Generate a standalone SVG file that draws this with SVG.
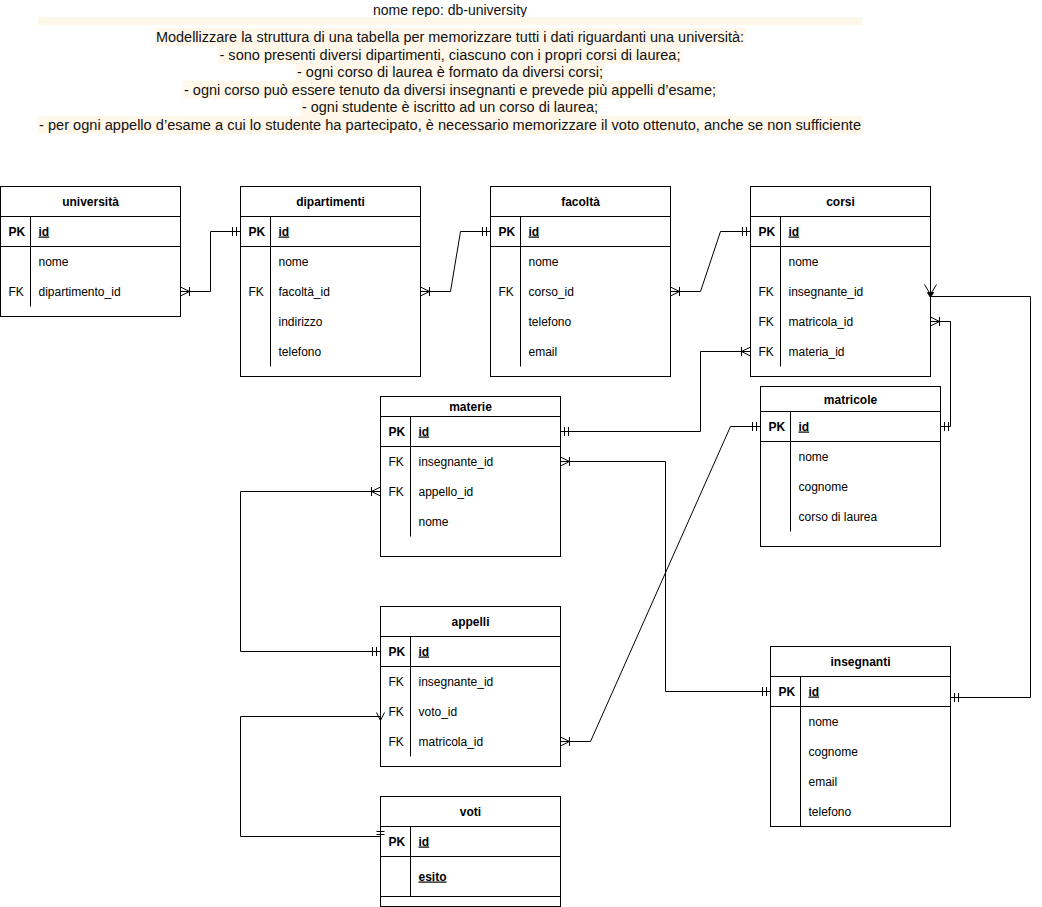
<svg xmlns="http://www.w3.org/2000/svg" width="1042" height="907" viewBox="0 0 1042 907">
<style>
text{font-family:"Liberation Sans",Arial,sans-serif;font-size:12px;fill:#000}
.h{font-weight:bold;text-anchor:middle}
.k{font-weight:bold}
.u{font-weight:bold;text-decoration:underline}
.t{font-size:14px;text-anchor:middle;fill:#111}
.box{fill:#fff;stroke:#000;stroke-width:1}
.ln{stroke:#000;stroke-width:1;fill:none}
.hl{fill:#fff7ea}
.c{stroke:#000;stroke-width:1;fill:none;marker-start:var(--ms);marker-end:var(--me)}
</style>
<defs>
<marker id="one" viewBox="-12 -6 14 12" refX="0" refY="0" markerWidth="14" markerHeight="12" markerUnits="userSpaceOnUse" orient="auto-start-reverse" overflow="visible"><path d="M-4,-4.5V4.5M-8,-4.5V4.5" stroke="#000" stroke-width="1" fill="none"/></marker>
<marker id="many" viewBox="-12 -6 14 12" refX="0" refY="0" markerWidth="14" markerHeight="12" markerUnits="userSpaceOnUse" orient="auto-start-reverse" overflow="visible"><path d="M0,-4.5L-9,0L0,4.5M-9,-4.5V4.5" stroke="#000" stroke-width="1" fill="none"/></marker>
</defs>
<rect width="1042" height="907" fill="#fff"/>
<g id="header">
<text x="450" y="15" class="t">nome repo: db-university</text>
<rect class="hl" x="38" y="17" width="824" height="8"/>
<rect class="hl" x="155" y="28" width="590" height="18"/>
<rect class="hl" x="218" y="45.6" width="463" height="18"/>
<rect class="hl" x="296" y="63.2" width="308" height="18"/>
<rect class="hl" x="183" y="80.8" width="534" height="18"/>
<rect class="hl" x="301" y="98.4" width="298" height="18"/>
<rect class="hl" x="38" y="116" width="824" height="18"/>
<text x="450" y="42" class="t" textLength="588" lengthAdjust="spacingAndGlyphs">Modellizzare la struttura di una tabella per memorizzare tutti i dati riguardanti una università:</text>
<text x="450" y="59.6" class="t" textLength="461" lengthAdjust="spacingAndGlyphs">- sono presenti diversi dipartimenti, ciascuno con i propri corsi di laurea;</text>
<text x="450" y="77.2" class="t" textLength="306" lengthAdjust="spacingAndGlyphs">- ogni corso di laurea è formato da diversi corsi;</text>
<text x="450" y="94.8" class="t" textLength="532" lengthAdjust="spacingAndGlyphs">- ogni corso può essere tenuto da diversi insegnanti e prevede più appelli d’esame;</text>
<text x="450" y="112.4" class="t" textLength="296" lengthAdjust="spacingAndGlyphs">- ogni studente è iscritto ad un corso di laurea;</text>
<text x="450" y="130" class="t" textLength="822" lengthAdjust="spacingAndGlyphs">- per ogni appello d’esame a cui lo studente ha partecipato, è necessario memorizzare il voto ottenuto, anche se non sufficiente</text>
</g>
<g transform="translate(0.5,0.5)">
<g id="universita" transform="translate(0,186)">
<rect class="box" width="180" height="130"/>
<path class="ln" d="M0,30H180M0,60H180M30,30V120"/>
<text x="90" y="19" class="h">università</text>
<text x="8" y="49" class="k">PK</text><text x="38" y="49" class="u">id</text>
<text x="38" y="79">nome</text>
<text x="8" y="109">FK</text><text x="38" y="109">dipartimento_id</text>
</g>
<g id="dipartimenti" transform="translate(240,186)">
<rect class="box" width="180" height="190"/>
<path class="ln" d="M0,30H180M0,60H180M30,30V180"/>
<text x="90" y="19" class="h">dipartimenti</text>
<text x="8" y="49" class="k">PK</text><text x="38" y="49" class="u">id</text>
<text x="38" y="79">nome</text>
<text x="8" y="109">FK</text><text x="38" y="109">facoltà_id</text>
<text x="38" y="139">indirizzo</text>
<text x="38" y="169">telefono</text>
</g>
<g id="facolta" transform="translate(490,186)">
<rect class="box" width="180" height="190"/>
<path class="ln" d="M0,30H180M0,60H180M30,30V180"/>
<text x="90" y="19" class="h">facoltà</text>
<text x="8" y="49" class="k">PK</text><text x="38" y="49" class="u">id</text>
<text x="38" y="79">nome</text>
<text x="8" y="109">FK</text><text x="38" y="109">corso_id</text>
<text x="38" y="139">telefono</text>
<text x="38" y="169">email</text>
</g>
<g id="corsi" transform="translate(750,186)">
<rect class="box" width="180" height="190"/>
<path class="ln" d="M0,30H180M0,60H180M30,30V180"/>
<text x="90" y="19" class="h">corsi</text>
<text x="8" y="49" class="k">PK</text><text x="38" y="49" class="u">id</text>
<text x="38" y="79">nome</text>
<text x="8" y="109">FK</text><text x="38" y="109">insegnante_id</text>
<text x="8" y="139">FK</text><text x="38" y="139">matricola_id</text>
<text x="8" y="169">FK</text><text x="38" y="169">materia_id</text>
</g>
<g id="materie" transform="translate(380,396)">
<rect class="box" width="180" height="160"/>
<path class="ln" d="M0,20H180M0,50H180M30,20V140"/>
<text x="90" y="14" class="h">materie</text>
<text x="8" y="39" class="k">PK</text><text x="38" y="39" class="u">id</text>
<text x="8" y="69">FK</text><text x="38" y="69">insegnante_id</text>
<text x="8" y="99">FK</text><text x="38" y="99">appello_id</text>
<text x="38" y="129">nome</text>
</g>
<g id="matricole" transform="translate(760,386)">
<rect class="box" width="180" height="160"/>
<path class="ln" d="M0,25H180M0,55H180M30,25V145"/>
<text x="90" y="17" class="h">matricole</text>
<text x="8" y="44" class="k">PK</text><text x="38" y="44" class="u">id</text>
<text x="38" y="74">nome</text>
<text x="38" y="104">cognome</text>
<text x="38" y="134">corso di laurea</text>
</g>
<g id="appelli" transform="translate(380,606)">
<rect class="box" width="180" height="160"/>
<path class="ln" d="M0,30H180M0,60H180M30,30V150"/>
<text x="90" y="19" class="h">appelli</text>
<text x="8" y="49" class="k">PK</text><text x="38" y="49" class="u">id</text>
<text x="8" y="79">FK</text><text x="38" y="79">insegnante_id</text>
<text x="8" y="109">FK</text><text x="38" y="109">voto_id</text>
<text x="8" y="139">FK</text><text x="38" y="139">matricola_id</text>
</g>
<g id="voti" transform="translate(380,796)">
<rect class="box" width="180" height="110"/>
<path class="ln" d="M0,30H180M0,60H180M0,100H180M30,30V100"/>
<text x="90" y="19" class="h">voti</text>
<text x="8" y="49" class="k">PK</text><text x="38" y="49" class="u">id</text>
<text x="38" y="84" class="u">esito</text>
</g>
<g id="insegnanti" transform="translate(770,646)">
<rect class="box" width="180" height="180"/>
<path class="ln" d="M0,30H180M0,60H180M30,30V180"/>
<text x="90" y="19" class="h">insegnanti</text>
<text x="8" y="49" class="k">PK</text><text x="38" y="49" class="u">id</text>
<text x="38" y="79">nome</text>
<text x="38" y="109">cognome</text>
<text x="38" y="139">email</text>
<text x="38" y="169">telefono</text>
</g>
<g id="connectors" fill="none" stroke="#000" stroke-width="1">
<path d="M180,291H210V231H240" marker-start="url(#many)" marker-end="url(#one)"/>
<path d="M420,291H450L460,231H490" marker-start="url(#many)" marker-end="url(#one)"/>
<path d="M670,291H700L720,231H750" marker-start="url(#many)" marker-end="url(#one)"/>
<path d="M560,431H700V351H750" marker-start="url(#one)" marker-end="url(#many)"/>
<path d="M560,461H665V691H770" marker-start="url(#many)" marker-end="url(#one)"/>
<path d="M560,741H590L730,426H760" marker-start="url(#many)" marker-end="url(#one)"/>
<path d="M930,321H950V426H940" marker-start="url(#many)" marker-end="url(#one)"/>
<path d="M950,697H1030V296H930" marker-start="url(#one)"/>
<path d="M924,284L930,294L936,284"/>
<path d="M927,292H933L930,297Z" fill="#000"/>
<path d="M380,651H240V491H380" marker-start="url(#one)" marker-end="url(#many)"/>
<path d="M380,716H240V836H380"/>
<path d="M376,712L380,720L384,712M380,712V720"/>
<path d="M376,831H384M376,834H384"/>
</g>
</g>
</svg>
